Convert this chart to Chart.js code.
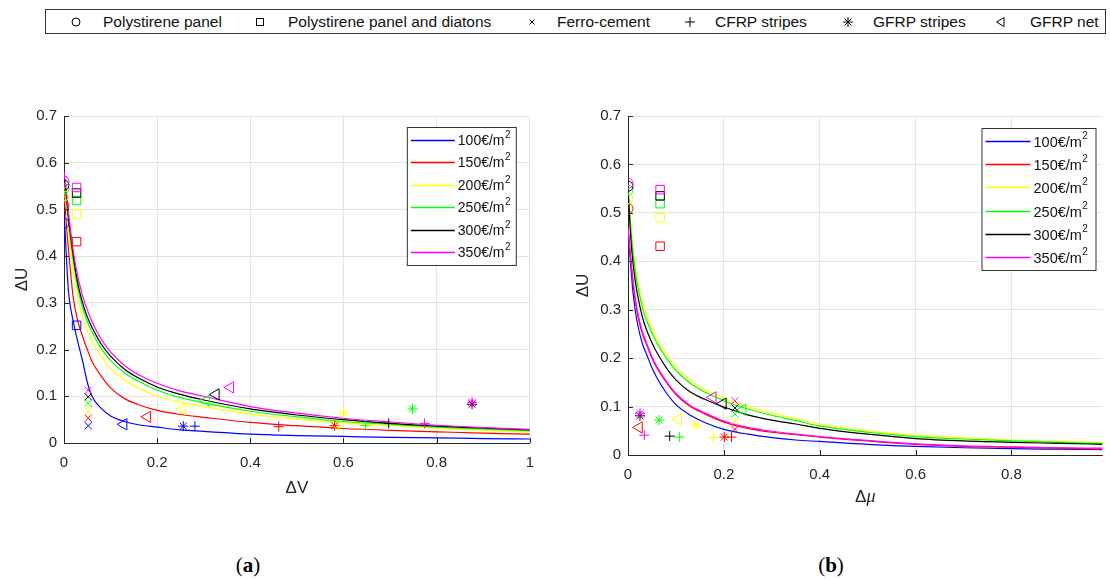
<!DOCTYPE html>
<html>
<head>
<meta charset="utf-8">
<script src="https://cdn.jsdelivr.net/npm/chart.js@4.4.1/dist/chart.umd.min.js"></script>
<style>
body { margin: 0; background: #fff; width: 1110px; height: 580px; overflow: hidden; position: relative; font-family: "Liberation Sans", Arial, sans-serif; }
#legend { position: absolute; left: 45px; top: 9px; width: 1059px; height: 23px; border: 1px solid #333; background: #fff; }
.item { position: absolute; top: 0; height: 23px; line-height: 23px; font-size: 15.5px; color: #111; white-space: nowrap; }
.icon { position: absolute; top: 6px; }
canvas { position: absolute; }
.cap { position: absolute; top: 553px; width: 60px; text-align: center; font-family: "Liberation Serif", serif; font-size: 21px; color: #000; }
</style>
</head>
<body>
<div id="legend"></div>
<canvas id="chartA" width="545" height="400" style="left:0;top:100px"></canvas>
<canvas id="chartB" width="550" height="410" style="left:560px;top:100px"></canvas>
<div class="cap" style="left:218px">(<b>a</b>)</div>
<div class="cap" style="left:801px">(<b>b</b>)</div>
<script>
// Cost levels of the iso-cost curves and their colours
const costs = [100, 150, 200, 250, 300, 350];
const colors = ['#0000ff', '#ff0000', '#ffff00', '#00ff00', '#000000', '#ff00ff'];

// Strengthening techniques (marker legend)
const materials = ['Polystirene panel', 'Polystirene panel and diatons', 'Ferro-cement', 'CFRP stripes', 'GFRP stripes', 'GFRP net'];

// Panel (a): ΔV sample points and ΔU of each curve (100 ... 350 €/m2)
const gridV = [0, 0.005, 0.01, 0.02, 0.03, 0.04, 0.05, 0.06, 0.08, 0.1, 0.13, 0.16, 0.2, 0.25, 0.3, 0.4, 0.5, 0.6, 0.7, 0.8, 0.9, 1];
const curveA100 = [0.50, 0.40, 0.32, 0.26, 0.215, 0.175, 0.13, 0.1, 0.074, 0.058, 0.046, 0.039, 0.034, 0.028, 0.025, 0.019, 0.016, 0.014, 0.012, 0.011, 0.0095, 0.0086];
const curveA150 = [0.55, 0.47, 0.41, 0.31, 0.26, 0.228, 0.2, 0.175, 0.143, 0.118, 0.095, 0.082, 0.07, 0.061, 0.055, 0.044, 0.037, 0.031, 0.027, 0.024, 0.021, 0.019];
const curveA200 = [0.56, 0.5, 0.45, 0.37, 0.31, 0.27, 0.24, 0.218, 0.185, 0.16, 0.135, 0.118, 0.1, 0.087, 0.078, 0.062, 0.051, 0.043, 0.037, 0.032, 0.027, 0.023];
const curveA250 = [0.565, 0.52, 0.47, 0.39, 0.33, 0.29, 0.26, 0.238, 0.202, 0.177, 0.15, 0.132, 0.113, 0.097, 0.086, 0.068, 0.056, 0.046, 0.04, 0.034, 0.03, 0.026];
const curveA300 = [0.57, 0.53, 0.48, 0.40, 0.34, 0.30, 0.27, 0.248, 0.212, 0.186, 0.158, 0.139, 0.12, 0.104, 0.092, 0.073, 0.06, 0.05, 0.042, 0.036, 0.032, 0.028];
const curveA350 = [0.58, 0.54, 0.49, 0.41, 0.355, 0.315, 0.285, 0.26, 0.222, 0.195, 0.166, 0.146, 0.128, 0.111, 0.1, 0.078, 0.064, 0.053, 0.045, 0.038, 0.033, 0.029];

// Panel (a) markers: one row per material, one value per cost colour
const markA_V = [
  [0, 0, 0, 0, 0, 0],
  [0.027, 0.027, 0.027, 0.027, 0.027, 0.027],
  [0.052, 0.052, 0.052, 0.052, 0.052, 0.052],
  [0.281, 0.461, 0.59, 0.647, 0.697, 0.774],
  [0.256, 0.581, 0.6, 0.748, 0.876, 0.876],
  [0.128, 0.179, 0.254, 0.305, 0.326, 0.357]
];
const markA_U = [
  [0.47, 0.508, 0.529, 0.544, 0.552, 0.561],
  [0.252, 0.431, 0.49, 0.519, 0.535, 0.547],
  [0.037, 0.053, 0.069, 0.085, 0.099, 0.113],
  [0.036, 0.035, 0.034, 0.037, 0.042, 0.042],
  [0.036, 0.037, 0.064, 0.073, 0.083, 0.087],
  [0.04, 0.056, 0.073, 0.091, 0.104, 0.119]
];

// Panel (b): Δμ sample points and ΔU of each curve
const gridMu = [0, 0.005, 0.01, 0.015, 0.02, 0.03, 0.04, 0.05, 0.06, 0.08, 0.1, 0.13, 0.16, 0.2, 0.25, 0.3, 0.35, 0.4, 0.5, 0.6, 0.7, 0.8, 0.9, 0.99];
const curveB100 = [0.47, 0.40, 0.34, 0.30, 0.27, 0.23, 0.205, 0.18, 0.16, 0.128, 0.104, 0.082, 0.067, 0.053, 0.043, 0.036, 0.031, 0.028, 0.022, 0.018, 0.015, 0.013, 0.012, 0.011];
const curveB150 = [0.47, 0.41, 0.36, 0.32, 0.29, 0.25, 0.225, 0.2, 0.18, 0.15, 0.125, 0.1, 0.085, 0.068, 0.055, 0.047, 0.042, 0.037, 0.029, 0.022, 0.018, 0.016, 0.014, 0.012];
const curveB200 = [0.55, 0.485, 0.43, 0.39, 0.36, 0.315, 0.285, 0.26, 0.24, 0.208, 0.182, 0.154, 0.135, 0.117, 0.1, 0.086, 0.075, 0.064, 0.05, 0.041, 0.036, 0.031, 0.028, 0.026];
const curveB250 = [0.55, 0.48, 0.42, 0.38, 0.35, 0.305, 0.275, 0.252, 0.232, 0.2, 0.175, 0.148, 0.13, 0.112, 0.095, 0.082, 0.071, 0.06, 0.047, 0.038, 0.033, 0.029, 0.026, 0.024];
const curveB300 = [0.55, 0.46, 0.40, 0.36, 0.33, 0.285, 0.255, 0.232, 0.212, 0.18, 0.155, 0.13, 0.115, 0.099, 0.083, 0.072, 0.064, 0.055, 0.043, 0.034, 0.029, 0.026, 0.024, 0.022];
const curveB350 = [0.47, 0.415, 0.365, 0.325, 0.295, 0.255, 0.228, 0.203, 0.183, 0.152, 0.127, 0.102, 0.087, 0.07, 0.057, 0.049, 0.043, 0.038, 0.03, 0.023, 0.019, 0.017, 0.015, 0.014];

// Panel (b) markers (no blue points shown)
const markB_Mu = [
  [null, 0, 0, 0, 0, 0],
  [null, 0.067, 0.067, 0.067, 0.067, 0.067],
  [null, 0.223, 0.223, 0.223, 0.223, 0.223],
  [null, 0.216, 0.179, 0.107, 0.087, 0.034],
  [null, 0.201, 0.142, 0.065, 0.025, 0.025],
  [null, 0.023, 0.105, 0.239, 0.198, 0.177]
];
const markB_U = [
  [null, 0.509, 0.529, 0.547, 0.555, 0.561],
  [null, 0.431, 0.49, 0.519, 0.535, 0.548],
  [null, 0.053, 0.071, 0.085, 0.097, 0.112],
  [null, 0.037, 0.036, 0.037, 0.039, 0.041],
  [null, 0.037, 0.062, 0.072, 0.081, 0.086],
  [null, 0.057, 0.074, 0.093, 0.106, 0.119]
];

// marker look for each material
const pointStyles = [
  { style: 'circle', r: 5, rot: 0 },
  { style: 'rect', r: 6, rot: 0 },
  { style: 'crossRot', r: 5, rot: 0 },
  { style: 'cross', r: 5, rot: 0 },
  { style: 'star', r: 5, rot: 0 },
  { style: 'triangle', r: 6.5, rot: -90 }
];

// top legend (html)
const legendIcons = [
  '<circle cx="6" cy="6" r="4" fill="none" stroke="#000"/>',
  '<rect x="2.5" y="2.5" width="7" height="7" fill="none" stroke="#000"/>',
  '<path d="M3.5 3.5L8.5 8.5M8.5 3.5L3.5 8.5" stroke="#000"/>',
  '<path d="M6 1V11M1 6H11" stroke="#000"/>',
  '<path d="M6 1V11M1 6H11M2.5 2.5L9.5 9.5M9.5 2.5L2.5 9.5" stroke="#000"/>',
  '<path d="M2.5 6L10 1.5V10.5Z" fill="none" stroke="#000"/>'
];
const iconX = [24, 208, 480, 638, 796, 948];
const textX = [57, 242, 511, 669, 827, 984];
const legendEl = document.getElementById('legend');
materials.forEach((m, i) => {
  legendEl.innerHTML += `<svg class="icon" width="12" height="12" style="left:${iconX[i]}px">${legendIcons[i]}</svg>` +
    `<span class="item" style="left:${textX[i]}px">${m}</span>`;
});

// inward ticks, axis titles and the in-plot cost legend
const decor = {
  id: 'decor',
  afterDraw(chart, args, o) {
    const { ctx, chartArea: a, scales: { x, y } } = chart;
    ctx.save();
    ctx.strokeStyle = '#262626';
    ctx.lineWidth = 1;
    ctx.beginPath();
    x.ticks.forEach(t => {
      const px = Math.round(x.getPixelForValue(t.value)) + 0.5;
      ctx.moveTo(px, a.bottom);
      ctx.lineTo(px, a.bottom - 5);
    });
    y.ticks.forEach(t => {
      const py = Math.round(y.getPixelForValue(t.value)) + 0.5;
      ctx.moveTo(a.left, py);
      ctx.lineTo(a.left + 5, py);
    });
    ctx.stroke();

    // axis titles
    ctx.fillStyle = '#262626';
    ctx.textBaseline = 'middle';
    ctx.font = '17px "Liberation Sans", Arial, sans-serif';
    const cx = (a.left + a.right) / 2;
    if (o.xItalic) {
      const w1 = ctx.measureText('Δ').width;
      ctx.font = 'italic 18px "Liberation Serif", serif';
      const w2 = ctx.measureText(o.xItalic).width;
      ctx.textAlign = 'left';
      ctx.font = '17px "Liberation Sans", Arial, sans-serif';
      ctx.fillText('Δ', cx - (w1 + w2) / 2, o.xTitleY);
      ctx.font = 'italic 18px "Liberation Serif", serif';
      ctx.fillText(o.xItalic, cx - (w1 + w2) / 2 + w1, o.xTitleY);
    } else {
      ctx.textAlign = 'center';
      ctx.fillText(o.xTitle, cx, o.xTitleY);
    }
    ctx.save();
    ctx.translate(o.yTitleX, (a.top + a.bottom) / 2);
    ctx.rotate(-Math.PI / 2);
    ctx.textAlign = 'center';
    ctx.font = '17px "Liberation Sans", Arial, sans-serif';
    ctx.fillText('ΔU', 0, 0);
    ctx.restore();

    // cost legend box
    const L = o.box;
    const bx = a.right - L.right - L.w;
    const by = a.top + L.top;
    ctx.fillStyle = '#fff';
    ctx.fillRect(bx, by, L.w, L.h);
    ctx.strokeStyle = '#333';
    ctx.strokeRect(bx + 0.5, by + 0.5, L.w, L.h);
    ctx.textAlign = 'left';
    costs.forEach((c, i) => {
      const ly = Math.round(by + L.first + i * L.step) + 0.5;
      ctx.strokeStyle = colors[i];
      ctx.lineWidth = 1.3;
      ctx.beginPath();
      ctx.moveTo(bx + 4, ly);
      ctx.lineTo(bx + L.line, ly);
      ctx.stroke();
      ctx.fillStyle = '#111';
      ctx.font = L.font + 'px "Liberation Sans", Arial, sans-serif';
      const label = c + '€/m';
      ctx.fillText(label, bx + L.line + 3, ly + 1);
      const w = ctx.measureText(label).width;
      ctx.font = Math.round(L.font * 0.72) + 'px "Liberation Sans", Arial, sans-serif';
      ctx.fillText('2', bx + L.line + 3 + w + 0.5, ly - 5);
    });
    ctx.restore();
  }
};

function curveSets(grid, rows) {
  // drawn so that the 350 curve ends on top
  return rows.map((vals, i) => ({
    label: costs[i] + '€/m2',
    data: grid.map((g, k) => ({ x: g, y: vals[k] })),
    showLine: true,
    borderColor: colors[i],
    borderWidth: 1.2,
    pointRadius: 0,
    cubicInterpolationMode: 'monotone',
    order: 10 - i
  }));
}

function markerSets(xs, us) {
  return materials.map((m, j) => {
    const pts = [], cols = [];
    xs[j].forEach((v, i) => {
      if (v === null) return;
      pts.push({ x: v, y: us[j][i] });
      cols.push(colors[i]);
    });
    const ps = pointStyles[j];
    return {
      label: m,
      data: pts,
      showLine: false,
      pointStyle: ps.style,
      pointRadius: ps.r,
      pointRotation: ps.rot,
      pointBorderColor: cols,
      pointBackgroundColor: 'rgba(0,0,0,0)',
      pointBorderWidth: 1,
      order: 0
    };
  });
}

function axisOpts(max, step, fixed, keepMax, pad) {
  return {
    type: 'linear',
    min: 0,
    max: max,
    ticks: {
      stepSize: step, color: '#262626', padding: pad,
      font: { size: 15, family: '"Liberation Sans", Arial, sans-serif' },
      callback: v => String(+v.toFixed(2))
    },
    grid: { color: '#e4e4e4', drawTicks: false },
    border: { color: '#262626', width: 1 },
    afterBuildTicks: s => { s.ticks = s.ticks.filter(t => t.value <= keepMax + 1e-9); },
    afterFit: s => { if (s.isHorizontal()) s.height = fixed; else s.width = fixed; }
  };
}

function makeChart(id, datasets, xMax, xKeep, yAxisW, xAxisH, pad, decorOpts) {
  return new Chart(document.getElementById(id), {
    type: 'scatter',
    data: { datasets },
    options: {
      responsive: false,
      animation: false,
      devicePixelRatio: 1,
      layout: { padding: pad },
      scales: {
        x: axisOpts(xMax, 0.2, xAxisH, xKeep, 11),
        y: axisOpts(0.7, 0.1, yAxisW, 0.7, 7)
      },
      plugins: { legend: { display: false }, tooltip: { enabled: false }, decor: decorOpts }
    },
    plugins: [decor]
  });
}

makeChart('chartA',
  markerSets(markA_V, markA_U).concat(curveSets(gridV, [curveA100, curveA150, curveA200, curveA250, curveA300, curveA350])),
  1, 1, 64, 57, { left: 0, right: 8, top: 15, bottom: 0 },
  { xTitle: 'ΔV', xTitleY: 388, yTitleX: 22,
    box: { right: 14, top: 11, w: 109, h: 138, first: 13, step: 22.4, line: 48, font: 14 } });

makeChart('chartB',
  markerSets(markB_Mu, markB_U).concat(curveSets(gridMu, [curveB100, curveB150, curveB200, curveB250, curveB300, curveB350])),
  0.99, 0.8, 68, 55, { left: 0, right: 0, top: 15, bottom: 0 },
  { xItalic: 'μ', xTitleY: 397, yTitleX: 23,
    box: { right: 7, top: 12, w: 114, h: 142, first: 13, step: 23.2, line: 49, font: 14.5 } });
</script>
</body>
</html>
